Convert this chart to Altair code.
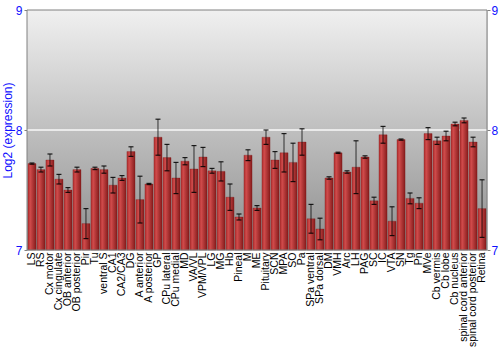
import altair as alt
import pandas as pd

labels = ["LS", "RS", "Cx motor", "Cx cingulate", "OB anterior", "OB posterior", "Pir", "Tu",
          "ventral S", "CA1", "CA2/CA3", "DG", "A anterior", "A posterior", "GP", "CPu lateral",
          "CPu medial", "MD", "VA/VL", "VPM/VPL", "LG", "MG", "Hb", "Pineal", "M", "ME",
          "Pituitary", "SCN", "MPA", "SO", "Pa", "SPa ventral", "SPa dorsal", "DM", "VMH", "Arc",
          "LH", "PAG", "SC", "IC", "VTA", "SN", "Tg", "Pn", "MVe", "Cb vermis", "Cb lobe",
          "Cb nucleus", "spinal cord anterior", "spinal cord posterior", "Retina"]

values = [7.72, 7.67, 7.75, 7.59, 7.50, 7.67, 7.22, 7.68, 7.67, 7.54,
          7.60, 7.82, 7.42, 7.55, 7.94, 7.77, 7.60, 7.74, 7.675, 7.775,
          7.66, 7.655, 7.44, 7.275, 7.79, 7.35, 7.94, 7.75, 7.81, 7.73,
          7.90, 7.26, 7.175, 7.60, 7.81, 7.65, 7.69, 7.775, 7.41, 7.96,
          7.24, 7.92, 7.43, 7.39, 7.97, 7.91, 7.95, 8.05, 8.08, 7.90, 7.345]

errors = [0.005, 0.02, 0.05, 0.04, 0.02, 0.02, 0.125, 0.01, 0.03, 0.065,
          0.02, 0.04, 0.195, 0.005, 0.15, 0.11, 0.13, 0.03, 0.195, 0.08,
          0.02, 0.08, 0.11, 0.025, 0.045, 0.02, 0.06, 0.07, 0.16, 0.16,
          0.11, 0.12, 0.09, 0.01, 0.005, 0.01, 0.22, 0.01, 0.03, 0.07,
          0.12, 0.005, 0.045, 0.045, 0.05, 0.03, 0.04, 0.015, 0.02, 0.04, 0.24]

y_min, y_max = 7, 9
tick_vals = [7, 8, 9]
grid_vals = [8]

df = pd.DataFrame({
    "label": labels,
    "value": values,
    "base": [y_min] * len(labels),
    "lo": [v - e for v, e in zip(values, errors)],
    "hi": [v + e for v, e in zip(values, errors)],
})

W, H = 460, 240
FONT = "Liberation Sans"
BLUE = "#1010ff"

xenc = alt.X("label:N", sort=labels,
             scale=alt.Scale(paddingInner=0.1, paddingOuter=0.1),
             axis=alt.Axis(title=None, labelAngle=270, ticks=False, domain=False,
                           labelPadding=2, labelFontSize=10.5, labelColor="#000000",
                           labelFont=FONT, labelAlign="right", labelBaseline="middle"))
yscale = alt.Scale(domain=[y_min, y_max], nice=False, zero=False)

bg = alt.Chart(pd.DataFrame({"a": [0]})).mark_rect(
    fill=alt.LinearGradient(gradient="linear", x1=0, x2=0, y1=0, y2=1,
                            stops=[alt.GradientStop(offset=0, color="#f0f0f0"),
                                   alt.GradientStop(offset=1, color="#8e8e8e")])
).encode(x=alt.value(0), x2=alt.value(W), y=alt.value(0), y2=alt.value(H))

grid = alt.Chart(pd.DataFrame({"g": grid_vals})).mark_rule(
    color="#ffffff", strokeWidth=1.5, opacity=0.9
).encode(y=alt.Y("g:Q", scale=yscale, axis=None), x=alt.value(0), x2=alt.value(W))

base = alt.Chart(df)

bars = base.mark_bar(
    fill=alt.LinearGradient(gradient="linear", x1=0, x2=1, y1=0, y2=0,
                            stops=[alt.GradientStop(offset=0, color="#b03030"),
                                   alt.GradientStop(offset=0.3, color="#cf4a4a"),
                                   alt.GradientStop(offset=1, color="#861c1c")]),
    stroke="#7a1818", strokeWidth=0.5, strokeOpacity=0.6
).encode(
    x=xenc,
    y=alt.Y("value:Q", scale=yscale,
            axis=alt.Axis(title="Log2 (expression)", orient="left", values=tick_vals,
                          labelExpr="toString(round(datum.value))",
                          labelColor=BLUE, titleColor=BLUE, labelFont=FONT, titleFont=FONT,
                          labelFontSize=12, titleFontSize=12, titleFontWeight="normal",
                          tickColor="#808080", tickSize=3, domain=False, labelPadding=2,
                          titlePadding=1, grid=False)),
    y2="base:Q",
)

rules = base.mark_rule(color="#000000", opacity=0.75, strokeWidth=1).encode(
    x=xenc,
    y=alt.Y("lo:Q", scale=yscale,
            axis=alt.Axis(title=None, orient="right", values=tick_vals,
                          labelExpr="toString(round(datum.value))",
                          labelColor=BLUE, labelFont=FONT, labelFontSize=12,
                          tickColor="#808080", tickSize=3, domain=False, labelPadding=1,
                          grid=False)),
    y2="hi:Q",
)

cap_lo = base.mark_tick(color="#000000", size=5, thickness=1.2, opacity=0.85).encode(
    x=xenc, y=alt.Y("lo:Q", scale=yscale, axis=None))
cap_hi = base.mark_tick(color="#000000", size=5, thickness=1.2, opacity=0.85).encode(
    x=xenc, y=alt.Y("hi:Q", scale=yscale, axis=None))

frame = alt.Chart(pd.DataFrame({"a": [0]})).mark_rect(
    fillOpacity=0, stroke="#808080", strokeWidth=1
).encode(x=alt.value(0), x2=alt.value(W), y=alt.value(0), y2=alt.value(H))

chart = alt.layer(bg, grid, bars, rules, cap_lo, cap_hi, frame).resolve_axis(
    y="independent"
).properties(
    width=W, height=H,
    autosize=alt.AutoSizeParams(type="none"),
    padding={"left": 27, "top": 10, "right": 13, "bottom": 100},
).configure_view(stroke=None).configure(background="#ffffff")

chart.save("out.html", embed_options={"renderer": "svg", "actions": False})
